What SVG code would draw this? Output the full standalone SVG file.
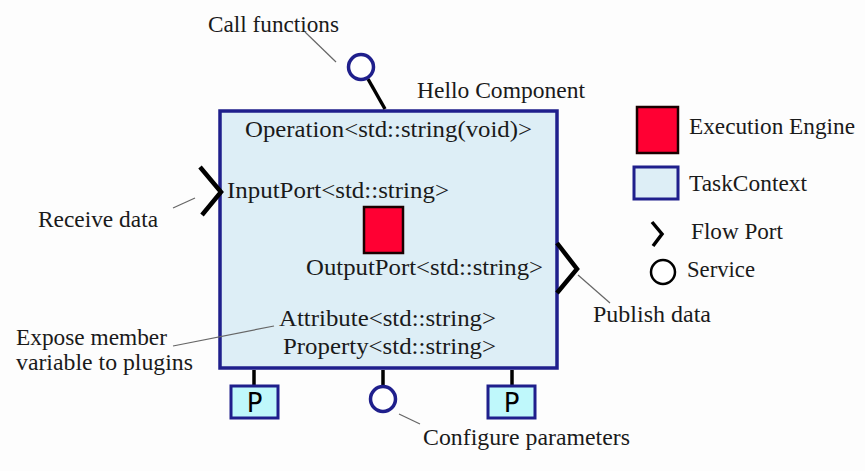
<svg xmlns="http://www.w3.org/2000/svg" width="865" height="471" viewBox="0 0 865 471">
<style>
text{font-family:"Liberation Serif","Times New Roman",serif;font-size:23px;fill:#1a1a1a}
.lead{stroke:#666;stroke-width:1.2;fill:none}
.port{stroke:#000;stroke-width:4.5;fill:none;stroke-linejoin:miter}
.stem{stroke:#000;stroke-width:3.5}
.svc{fill:#fff;stroke:#1f1f8c;stroke-width:3.5}
.p{fill:#bff8fb;stroke:#1f1f8c;stroke-width:3}
.ptxt{font-family:"DejaVu Sans","Liberation Sans",sans-serif;font-size:26px;fill:#000;text-anchor:middle}
</style>
<rect width="865" height="471" fill="#fdfdfd"/>
<g id="component">
<rect x="220" y="111" width="337" height="257" fill="#ddeef6" stroke="#1f1f8c" stroke-width="3.5"/>
<text x="417" y="98" textLength="168" lengthAdjust="spacingAndGlyphs">Hello Component</text>
<text x="245" y="137" textLength="287" lengthAdjust="spacingAndGlyphs">Operation&lt;std::string(void)&gt;</text>
<text x="227" y="198" textLength="222" lengthAdjust="spacingAndGlyphs">InputPort&lt;std::string&gt;</text>
<text x="306" y="275" textLength="237" lengthAdjust="spacingAndGlyphs">OutputPort&lt;std::string&gt;</text>
<text x="279" y="326" textLength="217" lengthAdjust="spacingAndGlyphs">Attribute&lt;std::string&gt;</text>
<text x="283" y="354" textLength="213" lengthAdjust="spacingAndGlyphs">Property&lt;std::string&gt;</text>
</g>
<g id="connectors">
<line class="lead" x1="305" y1="32" x2="336" y2="62"/>
<line class="lead" x1="173" y1="208" x2="195" y2="198"/>
<line class="lead" x1="173" y1="346" x2="274" y2="326"/>
<line class="lead" x1="578" y1="275" x2="610" y2="303"/>
<line class="lead" x1="399" y1="414" x2="420" y2="424"/>
<line class="stem" x1="368" y1="79" x2="385" y2="109"/>
<line class="stem" x1="254" y1="370" x2="254" y2="386"/>
<line class="stem" x1="383" y1="370" x2="383" y2="386"/>
<line class="stem" x1="512" y1="370" x2="512" y2="386"/>
</g>
<g id="engine">
<rect x="364" y="207" width="39" height="46" fill="#ff0033" stroke="#1a0000" stroke-width="2.5"/>
</g>
<g id="service-top">
<circle class="svc" cx="361" cy="67" r="12.5"/>
</g>
<g id="input-port">
<polyline class="port" points="200,167 221,192 202,215"/>
</g>
<g id="output-port">
<polyline class="port" points="557,243 577,269 557,293"/>
</g>
<g id="property-left">
<rect class="p" x="231" y="386" width="47" height="32"/>
<text class="ptxt" x="254.5" y="412">P</text>
</g>
<g id="service-bottom">
<circle class="svc" cx="383" cy="399" r="12.5"/>
</g>
<g id="property-right">
<rect class="p" x="488" y="386" width="47" height="32"/>
<text class="ptxt" x="511.5" y="412">P</text>
</g>
<g id="labels">
<text x="208" y="32" textLength="131" lengthAdjust="spacingAndGlyphs">Call functions</text>
<text x="38" y="227" textLength="120" lengthAdjust="spacingAndGlyphs">Receive data</text>
<text x="16" y="345" textLength="151" lengthAdjust="spacingAndGlyphs">Expose member</text>
<text x="16" y="370" textLength="177" lengthAdjust="spacingAndGlyphs">variable to plugins</text>
<text x="593" y="322" textLength="118" lengthAdjust="spacingAndGlyphs">Publish data</text>
<text x="423" y="445" textLength="207" lengthAdjust="spacingAndGlyphs">Configure parameters</text>
</g>
<g id="legend">
<rect x="637" y="107" width="41" height="46" fill="#ff0033" stroke="#1a0000" stroke-width="2.5"/>
<text x="689" y="134" textLength="166" lengthAdjust="spacingAndGlyphs">Execution Engine</text>
<rect x="634" y="167" width="44" height="32" fill="#ddeef6" stroke="#1f1f8c" stroke-width="3"/>
<text x="689" y="191" textLength="118" lengthAdjust="spacingAndGlyphs">TaskContext</text>
<polyline points="652,222 662,234 653,246" fill="none" stroke="#000" stroke-width="3.5"/>
<text x="691" y="239" textLength="92" lengthAdjust="spacingAndGlyphs">Flow Port</text>
<circle cx="663" cy="272" r="12" fill="#fff" stroke="#000" stroke-width="2.5"/>
<text x="687" y="277" textLength="68" lengthAdjust="spacingAndGlyphs">Service</text>
</g>
</svg>
